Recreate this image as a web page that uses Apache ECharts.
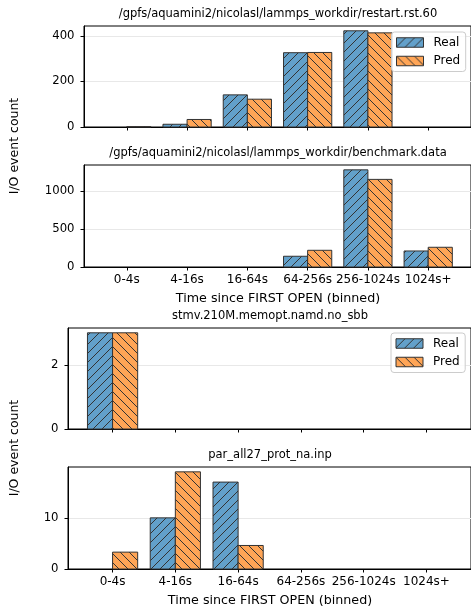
<!DOCTYPE html>
<html>
<head>
<meta charset="utf-8">
<script src="https://cdn.jsdelivr.net/npm/echarts@6/dist/echarts.min.js"></script>
<style>html,body{margin:0;padding:0;background:#fff}#c{width:471px;height:611px}</style>
</head>
<body>
<div id="c"></div>
<script>
// ---- data ----
const categories = ['0-4s', '4-16s', '16-64s', '64-256s', '256-1024s', '1024s+'];
const titles = [
  '/gpfs/aquamini2/nicolasl/lammps_workdir/restart.rst.60',
  '/gpfs/aquamini2/nicolasl/lammps_workdir/benchmark.data',
  'stmv.210M.memopt.namd.no_sbb',
  'par_all27_prot_na.inp'
];
const real1 = [0, 12, 141, 326, 422, 0];
const pred1 = [1.5, 33, 122, 327, 413, 0];
const real2 = [0, 0, 0, 142, 1285, 212];
const pred2 = [0, 0, 0, 221, 1159, 261];
const real3 = [3, 0, 0, 0, 0, 0];
const pred3 = [3, 0, 0, 0, 0, 0];
const real4 = [0, 10, 17, 0, 0, 0];
const pred4 = [3.3, 19, 4.6, 0, 0, 0];
const yTicks1 = [0, 200, 400];
const yTicks2 = [0, 500, 1000];
const yTicks3 = [0, 2];
const yTicks4 = [0, 10];
const xLabel = 'Time since FIRST OPEN (binned)';
const yLabel = 'I/O event count';
const seriesNames = ['Real', 'Pred'];

// ---- styling ----
const FONT = 'DejaVu Sans';
const BLUE = '#62a0ca';
const ORANGE = '#ffa556';
const EDGE = '#333333';
const BAR_W = 0.4;

function hatch(bg, forward) {
  const s = 9;
  const c = document.createElement('canvas');
  c.width = s; c.height = s;
  const g = c.getContext('2d');
  g.fillStyle = bg; g.fillRect(0, 0, s, s);
  g.strokeStyle = '#333333'; g.lineWidth = 1;
  g.beginPath();
  if (forward) {
    g.moveTo(0, s); g.lineTo(s, 0);
    g.moveTo(-1, 1); g.lineTo(1, -1);
    g.moveTo(s - 1, s + 1); g.lineTo(s + 1, s - 1);
  } else {
    g.moveTo(0, 0); g.lineTo(s, s);
    g.moveTo(-1, s - 1); g.lineTo(1, s + 1);
    g.moveTo(s - 1, -1); g.lineTo(s + 1, 1);
  }
  g.stroke();
  return { image: c, repeat: 'repeat' };
}
const patReal = hatch(BLUE, true);
const patPred = hatch(ORANGE, false);

const panels = [
  { real: real1, pred: pred1, ticks: yTicks1, grid: { left: 84, top: 26, height: 101, width: 388 }, labels: false },
  { real: real2, pred: pred2, ticks: yTicks2, grid: { left: 84, top: 165, height: 102, width: 388 }, labels: true },
  { real: real3, pred: pred3, ticks: yTicks3, grid: { left: 68, top: 328, height: 101, width: 404.5 }, labels: false },
  { real: real4, pred: pred4, ticks: yTicks4, grid: { left: 68, top: 467, height: 102, width: 404.5 }, labels: true }
];

const grids = [], xAxes = [], yAxes = [], series = [], graphics = [];
const xIdx = categories.map((_, i) => i);

panels.forEach((p, k) => {
  grids.push(Object.assign({ show: true, borderColor: '#000', borderWidth: 1, backgroundColor: 'transparent' }, p.grid));
  xAxes.push({
    type: 'value', gridIndex: k, min: -0.71, max: 5.71,
    axisLine: { show: true, onZero: false, lineStyle: { color: '#000', width: 1 } },
    axisTick: { show: true, length: 3.5, customValues: xIdx, lineStyle: { color: '#000', width: 1 } },
    axisLabel: {
      show: p.labels, customValues: xIdx, margin: 7,
      formatter: v => categories[Math.round(v)] || '',
      fontFamily: FONT, fontSize: 12, color: '#000'
    },
    splitLine: { show: false }
  });
  const maxV = Math.max.apply(null, p.real.concat(p.pred)) * 1.05;
  yAxes.push({
    type: 'value', gridIndex: k, min: 0, max: maxV,
    axisLine: { show: true, onZero: false, lineStyle: { color: '#000', width: 1 } },
    axisTick: { show: true, length: 3.5, customValues: p.ticks, lineStyle: { color: '#000', width: 1 } },
    axisLabel: { customValues: p.ticks, margin: 9.5, fontFamily: FONT, fontSize: 11.7, color: '#000', formatter: v => String(v) },
    splitLine: { show: true, lineStyle: { color: '#e8e8e8', width: 1 } }
  });
  [p.real, p.pred].forEach((vals, s) => {
    const offset = s === 0 ? -BAR_W : 0;
    const pat = s === 0 ? patReal : patPred;
    series.push({
      type: 'custom', name: seriesNames[s], xAxisIndex: k, yAxisIndex: k,
      encode: { x: 0, y: 1 },
      itemStyle: { color: pat, borderColor: EDGE, borderWidth: 1 },
      data: vals.map((v, i) => [i, v]),
      renderItem: function (params, api) {
        const x = api.value(0), v = api.value(1);
        if (!v) return null;
        const p0 = api.coord([x + offset, 0]);
        const p1 = api.coord([x + offset + BAR_W, v]);
        return {
          type: 'rect',
          shape: { x: p0[0], y: p1[1], width: p1[0] - p0[0], height: p0[1] - p1[1] },
          style: { fill: pat, stroke: EDGE, lineWidth: 1 }
        };
      }
    });
  });
});

function txt(text, x, y, size, rot) {
  return {
    type: 'text', x: x, y: y, rotation: rot || 0,
    style: { text: text, fill: '#000', font: size + 'px "' + FONT + '"', align: 'center', verticalAlign: 'middle' }
  };
}
graphics.push(txt(titles[0], 278, 14, 11.5));
graphics.push(txt(titles[1], 278, 153, 11.5));
graphics.push(txt(titles[2], 270, 316, 11.5));
graphics.push(txt(titles[3], 270, 455, 11.5));
graphics.push(txt(xLabel, 278, 298.5, 12.7));
graphics.push(txt(xLabel, 270, 600.7, 12.7));
graphics.push(txt(yLabel, 15, 146, 12.5, Math.PI / 2));
graphics.push(txt(yLabel, 15, 448, 12.5, Math.PI / 2));

function legend(left, top) {
  return {
    left: left, top: top, orient: 'vertical', selectedMode: false,
    itemWidth: 27, itemHeight: 9.5, itemGap: 4.5,
    padding: [3.5, 5.5, 3.5, 4.5],
    borderColor: '#cccccc', borderWidth: 1, borderRadius: 3,
    backgroundColor: 'rgba(255,255,255,0.8)',
    textStyle: { fontFamily: FONT, fontSize: 12, color: '#000', lineHeight: 14, padding: [0, 0, 0, 5] },
    data: [
      { name: 'Real', icon: 'rect', itemStyle: { color: patReal, borderColor: EDGE, borderWidth: 1 } },
      { name: 'Pred', icon: 'rect', itemStyle: { color: patPred, borderColor: EDGE, borderWidth: 1 } }
    ]
  };
}

const chart = echarts.init(document.getElementById('c'), null, { renderer: 'canvas' });
chart.setOption({
  animation: false,
  backgroundColor: '#fff',
  grid: grids, xAxis: xAxes, yAxis: yAxes, series: series,
  legend: [legend(391.5, 32), legend(391, 333)],
  graphic: graphics
});
</script>
</body>
</html>
